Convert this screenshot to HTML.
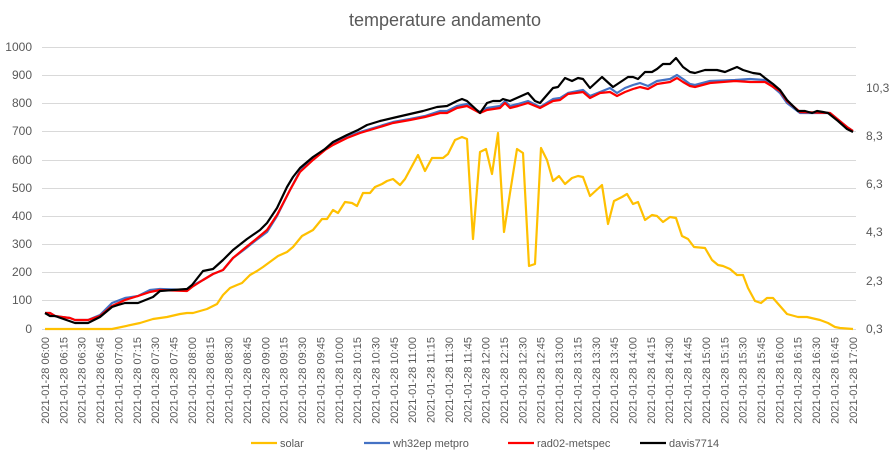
<!DOCTYPE html>
<html><head><meta charset="utf-8"><style>
html,body{margin:0;padding:0;background:#fff;}
svg{display:block;font-family:"Liberation Sans",sans-serif;}
</style></head><body>
<svg width="890" height="454" viewBox="0 0 890 454">
<rect width="890" height="454" fill="#fff"/>
<text x="445" y="26" text-anchor="middle" font-size="18" fill="#595959">temperature andamento</text>
<g stroke="#d9d9d9" stroke-width="1">
<line x1="42" x2="856" y1="47.5" y2="47.5"/><line x1="42" x2="856" y1="75.5" y2="75.5"/><line x1="42" x2="856" y1="103.5" y2="103.5"/><line x1="42" x2="856" y1="131.5" y2="131.5"/><line x1="42" x2="856" y1="160.5" y2="160.5"/><line x1="42" x2="856" y1="188.5" y2="188.5"/><line x1="42" x2="856" y1="216.5" y2="216.5"/><line x1="42" x2="856" y1="244.5" y2="244.5"/><line x1="42" x2="856" y1="272.5" y2="272.5"/><line x1="42" x2="856" y1="300.5" y2="300.5"/><line x1="42" x2="856" y1="329.5" y2="329.5"/>
</g>
<g font-size="12" fill="#595959" text-anchor="end">
<text x="32" y="51">1000</text><text x="32" y="79">900</text><text x="32" y="107">800</text><text x="32" y="135">700</text><text x="32" y="164">600</text><text x="32" y="192">500</text><text x="32" y="220">400</text><text x="32" y="248">300</text><text x="32" y="276">200</text><text x="32" y="304">100</text><text x="32" y="333">0</text>
</g>
<g font-size="12" fill="#595959" text-anchor="start">
<text x="866" y="92">10,3</text><text x="866" y="140">8,3</text><text x="866" y="188">6,3</text><text x="866" y="236">4,3</text><text x="866" y="285">2,3</text><text x="866" y="333">0,3</text>
</g>
<g fill="none" stroke-width="2.2" stroke-linejoin="round">
<polyline stroke="#ffc000" points="45,329 112,329 140,323 153,319 167,317 180,314 187,313 193,313 207,309 217,304 223,295 230,288 237,285 242,283 250,275 257,271 263,267 278,256 287,252 293,247 302,236 313,230 322,219 327,219 333,210 338,213 345,202 352,203 357,206 363,193 370,193 375,187 382,184 387,181 393,179 400,185 405,179 418,155 425,171 432,158 438,158 443,158 448,154 455,140 462,137 467,139 473,239 480,152 486,149 492,174 498,133 504,232 510,193 517,149 523,153 529,266 535,264 541,148 547,160 553,181 559,176 565,184 572,178 578,176 583,177 590,196 602,185 608,224 614,201 622,197 627,194 633,204 638,202 645,220 652,215 657,216 663,222 670,217 676,218 682,236 688,239 694,247 705,248 712,260 718,265 723,266 730,269 737,275 743,275 748,288 755,301 761,303 767,298 773,298 780,306 787,314 798,317 807,317 820,320 828,323 835,327 840,328 853,329"/>
<polyline stroke="#4472c4" points="45,313 50,313 55,316 62,317 70,318 75,320 88,320 100,315 112,303 125,298 138,296 150,290 160,289 187,290 192,286 203,280 213,274 223,270 233,258 245,249 255,241 267,232 277,216 290,190 300,171 313,158 325,149 333,144 347,137 360,132 370,129 380,126 393,122 410,119 425,116 440,111 447,111 457,106 467,104 480,112 487,108 500,106 505,101 510,106 518,104 528,101 540,107 553,99 560,98 568,93 583,90 590,96 600,92 610,88 617,93 625,88 633,85 640,83 648,86 657,81 670,79 677,75 683,79 690,84 695,85 710,81 735,80 750,79 765,80 780,93 787,103 800,113 830,113 847,127 853,131"/>
<polyline stroke="#ff0000" points="45,313 50,313 55,316 62,317 70,318 75,320 88,320 100,316 112,306 125,300 138,296 150,292 160,290 187,291 192,287 203,280 213,274 223,270 233,258 245,248 255,240 267,230 277,215 290,190 300,172 313,160 325,150 333,145 347,138 360,133 370,130 380,127 393,123 410,120 425,117 440,113 447,113 457,108 467,106 480,113 487,110 500,108 505,103 510,108 518,106 528,103 540,108 553,101 560,100 568,94 583,92 590,98 600,93 610,92 617,96 625,92 633,89 640,87 648,89 657,84 670,82 677,78 683,82 690,86 695,87 710,83 735,81 750,82 765,82 780,91 787,101 800,112 830,113 847,127 853,131"/>
<polyline stroke="#000000" points="45,313 50,316 55,316 75,323 88,323 100,317 112,307 118,305 125,303 138,303 153,297 160,291 173,290 187,289 192,285 203,271 213,269 223,260 233,250 247,239 260,230 267,223 277,208 287,187 293,177 300,168 313,157 325,149 333,142 347,135 358,130 367,125 380,121 397,117 410,114 423,111 437,107 447,106 457,101 462,99 467,101 480,113 487,103 493,101 500,101 503,99 510,101 528,93 535,101 540,103 553,88 558,87 565,78 572,81 578,78 583,79 590,88 602,77 613,87 622,81 628,77 633,77 638,79 645,72 652,72 657,69 663,64 670,64 676,58 683,67 690,72 695,73 705,70 717,70 725,72 737,67 743,70 753,73 760,74 765,78 773,84 780,90 787,100 798,111 805,111 812,113 817,111 823,112 828,113 838,121 847,129 853,132"/>
</g>
<g font-size="11" fill="#595959" text-anchor="end">
<text transform="translate(49,337) rotate(-90)">2021-01-28 06:00</text>
<text transform="translate(67.4,337) rotate(-90)">2021-01-28 06:15</text>
<text transform="translate(85.7,337) rotate(-90)">2021-01-28 06:30</text>
<text transform="translate(104.1,337) rotate(-90)">2021-01-28 06:45</text>
<text transform="translate(122.4,337) rotate(-90)">2021-01-28 07:00</text>
<text transform="translate(140.8,337) rotate(-90)">2021-01-28 07:15</text>
<text transform="translate(159.2,337) rotate(-90)">2021-01-28 07:30</text>
<text transform="translate(177.5,337) rotate(-90)">2021-01-28 07:45</text>
<text transform="translate(195.9,337) rotate(-90)">2021-01-28 08:00</text>
<text transform="translate(214.2,337) rotate(-90)">2021-01-28 08:15</text>
<text transform="translate(232.6,337) rotate(-90)">2021-01-28 08:30</text>
<text transform="translate(251,337) rotate(-90)">2021-01-28 08:45</text>
<text transform="translate(269.3,337) rotate(-90)">2021-01-28 09:00</text>
<text transform="translate(287.7,337) rotate(-90)">2021-01-28 09:15</text>
<text transform="translate(306,337) rotate(-90)">2021-01-28 09:30</text>
<text transform="translate(324.4,337) rotate(-90)">2021-01-28 09:45</text>
<text transform="translate(342.8,337) rotate(-90)">2021-01-28 10:00</text>
<text transform="translate(361.1,337) rotate(-90)">2021-01-28 10:15</text>
<text transform="translate(379.5,337) rotate(-90)">2021-01-28 10:30</text>
<text transform="translate(397.8,337) rotate(-90)">2021-01-28 10:45</text>
<text transform="translate(416.2,337) rotate(-90)">2021-01-28 11:00</text>
<text transform="translate(434.5,337) rotate(-90)">2021-01-28 11:15</text>
<text transform="translate(452.9,337) rotate(-90)">2021-01-28 11:30</text>
<text transform="translate(471.3,337) rotate(-90)">2021-01-28 11:45</text>
<text transform="translate(489.6,337) rotate(-90)">2021-01-28 12:00</text>
<text transform="translate(508,337) rotate(-90)">2021-01-28 12:15</text>
<text transform="translate(526.3,337) rotate(-90)">2021-01-28 12:30</text>
<text transform="translate(544.7,337) rotate(-90)">2021-01-28 12:45</text>
<text transform="translate(563.1,337) rotate(-90)">2021-01-28 13:00</text>
<text transform="translate(581.4,337) rotate(-90)">2021-01-28 13:15</text>
<text transform="translate(599.8,337) rotate(-90)">2021-01-28 13:30</text>
<text transform="translate(618.1,337) rotate(-90)">2021-01-28 13:45</text>
<text transform="translate(636.5,337) rotate(-90)">2021-01-28 14:00</text>
<text transform="translate(654.9,337) rotate(-90)">2021-01-28 14:15</text>
<text transform="translate(673.2,337) rotate(-90)">2021-01-28 14:30</text>
<text transform="translate(691.6,337) rotate(-90)">2021-01-28 14:45</text>
<text transform="translate(709.9,337) rotate(-90)">2021-01-28 15:00</text>
<text transform="translate(728.3,337) rotate(-90)">2021-01-28 15:15</text>
<text transform="translate(746.7,337) rotate(-90)">2021-01-28 15:30</text>
<text transform="translate(765,337) rotate(-90)">2021-01-28 15:45</text>
<text transform="translate(783.4,337) rotate(-90)">2021-01-28 16:00</text>
<text transform="translate(801.7,337) rotate(-90)">2021-01-28 16:15</text>
<text transform="translate(820.1,337) rotate(-90)">2021-01-28 16:30</text>
<text transform="translate(838.4,337) rotate(-90)">2021-01-28 16:45</text>
<text transform="translate(856.8,337) rotate(-90)">2021-01-28 17:00</text>
</g>
<g font-size="11" fill="#595959">
<line x1="251" x2="277" y1="443" y2="443" stroke="#ffc000" stroke-width="2.2"/><text x="280" y="447">solar</text>
<line x1="364" x2="390" y1="443" y2="443" stroke="#4472c4" stroke-width="2.2"/><text x="393" y="447">wh32ep metpro</text>
<line x1="508" x2="534" y1="443" y2="443" stroke="#ff0000" stroke-width="2.2"/><text x="537" y="447">rad02-metspec</text>
<line x1="640" x2="666" y1="443" y2="443" stroke="#000" stroke-width="2.2"/><text x="669" y="447">davis7714</text>
</g>
</svg>
</body></html>
